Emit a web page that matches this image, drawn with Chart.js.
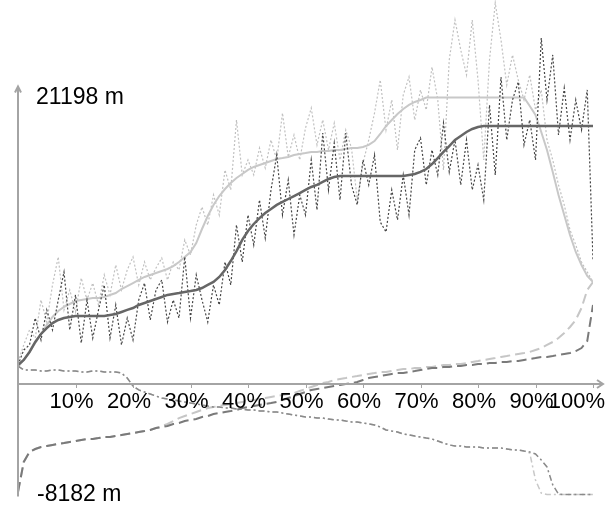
<!DOCTYPE html>
<html>
<head>
<meta charset="utf-8">
<script src="https://cdn.jsdelivr.net/npm/chart.js@4.4.1/dist/chart.umd.min.js"></script>
<style>
	html, body { margin: 0; padding: 0; background: #fff; }
	#wrap { width: 616px; height: 506px; }
</style>
</head>
<body>
<div id="wrap"><canvas id="myChart" width="616" height="506"></canvas></div>
<script>
// x positions along the profile, in percent
const pct = [0,1,2,3,4,5,6,7,8,9,10,11,12,13,14,15,16,17,18,19,20,21,22,23,24,25,26,27,28,29,30,31,32,33,34,35,36,37,38,39,40,41,42,43,44,45,46,47,48,49,50,51,52,53,54,55,56,57,58,59,60,61,62,63,64,65,66,67,68,69,70,71,72,73,74,75,76,77,78,79,80,81,82,83,84,85,86,87,88,89,90,91,92,93,94,95,96,97,98,99,100];
const tickValues = [10,20,30,40,50,60,70,80,90,100];
const tickLabels = ['10%','20%','30%','40%','50%','60%','70%','80%','90%','100%'];
const maxLabel = 21198; // m
const minLabel = -8182; // m

// values in metres
const lightRaw = [1630,2890,4000,3400,6220,4590,7330,9400,5480,6960,
	5330,7840,6220,7470,5850,8070,6590,8810,6960,8440,
	9400,7330,9030,7700,8580,9320,7700,9030,8440,10660,
	9550,11770,13100,11770,13990,12510,15840,14360,19540,15470,
	16580,15470,17460,15980,18060,16580,20050,16800,18430,16580,
	18940,20420,17690,19540,17320,19310,16580,18800,17460,13620,
	16350,18060,20050,22500,18800,21020,17320,21390,22720,19540,
	21760,20280,23460,21020,15840,23980,26940,24720,22870,26940,
	22500,16580,23980,28190,25460,22130,24350,22500,21020,22870,
	20280,21760,18060,16580,14730,13250,11400,10290,9030,8290,
	7550];
const darkRaw = [1410,2520,2890,4880,3260,5480,4000,6220,8290,4000,
	6590,3030,6220,3400,5480,7330,3400,5850,2890,4880,
	3260,6220,7470,4740,6960,7700,4590,6220,4880,9400,
	4880,8070,6220,4590,7330,5850,9030,7330,11770,9030,
	12510,10290,13620,10800,14360,16950,12510,15100,11030,13990,
	12510,16580,12880,18570,14360,17830,13620,18570,14730,13250,
	16580,14730,16950,11990,11250,14360,12140,15470,12510,17320,
	18200,14730,17320,15470,19310,15690,18060,14730,18060,14360,
	16210,13620,20650,15470,22720,18060,21020,22350,17690,19540,
	16580,25600,21020,24350,18430,21900,18060,21020,18800,21760,
	9180];
const lightSmooth = [1260,1780,2370,3030,3700,4370,4960,5400,5700,5920,
	6140,6220,6290,6360,6360,6440,6590,6730,7030,7250,
	7470,7700,7920,8070,8210,8360,8510,8730,9030,9400,
	9770,10430,11470,12430,13250,13910,14430,14870,15240,15540,
	15840,16060,16210,16350,16500,16650,16720,16800,16950,17020,
	17090,17170,17170,17240,17240,17320,17320,17390,17460,17460,
	17540,17690,17980,18500,19090,19540,19980,20350,20650,20870,
	21020,21198,21198,21198,21198,21198,21198,21198,21198,21198,
	21198,21198,21198,21198,21198,21198,21198,21198,21198,20570,
	19910,18650,17320,15690,13990,12510,11030,9770,8810,7990,
	7550];
const darkSmooth = [1410,1780,2370,3110,3700,4140,4510,4740,4880,4960,
	5030,5030,5030,5030,5030,5030,5110,5180,5330,5480,
	5620,5850,5990,6140,6290,6440,6590,6660,6730,6810,
	6880,6960,7100,7330,7550,7920,8440,9100,9840,10660,
	11320,11840,12280,12650,12950,13250,13470,13690,13910,14130,
	14360,14580,14730,14950,15170,15320,15390,15390,15390,15390,
	15390,15390,15390,15390,15390,15390,15390,15390,15470,15540,
	15690,15910,16280,16720,17170,17610,18060,18350,18650,18870,
	19020,19090,19090,19090,19090,19090,19090,19090,19090,19090,
	19090,19090,19090,19090,19090,19090,19090,19090,19090,19090,
	19090];
const lightSorted = [-7990,-5770,-5030,-4810,-4660,-4590,-4510,-4440,-4370,-4290,
	-4220,-4140,-4070,-4070,-4000,-3920,-3920,-3850,-3770,-3700,
	-3630,-3550,-3480,-3400,-3260,-3110,-2960,-2740,-2520,-2370,
	-2220,-2070,-1920,-1780,-1700,-1630,-1550,-1480,-1410,-1330,
	-1260,-1180,-1110,-1040,-960,-890,-810,-740,-670,-520,
	-370,-220,-70,70,150,300,370,440,520,590,
	670,740,810,890,890,960,1040,1110,1110,1180,
	1180,1260,1260,1330,1410,1410,1480,1480,1550,1630,
	1700,1780,1850,1920,2000,2070,2150,2220,2290,2370,
	2520,2660,2890,3110,3400,3770,4220,4740,5620,6960,
	7550];
const darkSorted = [-7990,-5770,-5030,-4810,-4660,-4590,-4510,-4440,-4370,-4290,
	-4220,-4140,-4070,-4070,-4000,-3920,-3920,-3850,-3770,-3700,
	-3630,-3550,-3480,-3400,-3260,-3180,-3110,-2960,-2890,-2740,
	-2660,-2590,-2440,-2370,-2220,-2150,-2070,-2000,-1920,-1780,
	-1700,-1630,-1550,-1480,-1410,-1330,-1180,-1040,-890,-740,
	-590,-440,-370,-300,-220,-150,-70,0,70,150,
	300,440,520,590,670,740,810,810,890,960,
	1040,1110,1180,1180,1260,1260,1330,1330,1410,1410,
	1480,1480,1550,1550,1630,1630,1700,1700,1780,1850,
	1920,2000,2000,2070,2150,2220,2290,2440,2660,3180,
	5850];
const lightDrop = [1330,1040,1040,1040,960,960,1040,1040,960,960,
	960,890,890,960,960,890,890,890,810,440,
	-150,-440,-590,-740,-890,-1040,-1110,-1180,-1260,-1330,
	-1410,-1480,-1550,-1630,-1700,-1700,-1780,-1780,-1850,-1850,
	-1920,-1920,-2000,-2000,-2070,-2070,-2150,-2220,-2290,-2370,
	-2440,-2440,-2520,-2520,-2590,-2660,-2660,-2740,-2810,-2810,
	-2890,-2960,-3030,-3180,-3400,-3480,-3550,-3700,-3770,-3850,
	-3920,-4000,-4070,-4220,-4370,-4510,-4590,-4590,-4660,-4660,
	-4660,-4740,-4740,-4740,-4740,-4810,-4880,-4880,-4960,-5110,
	-7100,-8070,-8182,-8182,-8182,-8182,-8182,-8182,-8182,-8182,
	-8182];
const darkDrop = [1330,1040,1040,1040,960,960,1040,1040,960,960,
	960,890,890,960,960,890,890,890,810,440,
	-150,-440,-590,-740,-890,-1040,-1110,-1180,-1260,-1330,
	-1410,-1480,-1550,-1630,-1700,-1700,-1780,-1780,-1850,-1850,
	-1920,-1920,-2000,-2000,-2070,-2070,-2150,-2220,-2290,-2370,
	-2440,-2440,-2520,-2520,-2590,-2660,-2660,-2740,-2810,-2810,
	-2890,-2960,-3030,-3180,-3400,-3480,-3550,-3700,-3770,-3850,
	-3920,-4000,-4070,-4220,-4370,-4510,-4590,-4590,-4660,-4660,
	-4660,-4740,-4740,-4740,-4740,-4810,-4880,-4880,-4960,-5030,
	-5180,-5620,-6140,-7470,-8140,-8182,-8182,-8182,-8182,-8182,
	-8182];

const tickFont = '22px "Liberation Sans", Arial, sans-serif';
const edgeFont = '23px "Liberation Sans", Arial, sans-serif';

// axis lines with arrows, the two extreme labels and the percent ticks
const axisPlugin = {
	id: 'axisPlugin',
	afterDatasetsDraw(chart) {
		const { ctx, scales: { x, y } } = chart;
		const x0 = x.getPixelForValue(0);
		const y0 = y.getPixelForValue(0);
		const yTop = y.getPixelForValue(maxLabel) - 11;
		const yBot = y.getPixelForValue(minLabel) + 2;
		const xEnd = x.getPixelForValue(100) + 10;
		ctx.save();
		ctx.strokeStyle = '#a4a4a4';
		ctx.lineWidth = 2;
		ctx.beginPath();
		ctx.moveTo(x0, yBot);
		ctx.lineTo(x0, yTop);
		ctx.moveTo(x0 - 3, yTop + 6);
		ctx.lineTo(x0, yTop);
		ctx.lineTo(x0 + 3, yTop + 6);
		ctx.stroke();

		ctx.beginPath();
		ctx.moveTo(x0, y0);
		ctx.lineTo(xEnd, y0);
		ctx.moveTo(xEnd - 6, y0 - 4);
		ctx.lineTo(xEnd, y0);
		ctx.lineTo(xEnd - 6, y0 + 4);
		ctx.stroke();

		ctx.lineWidth = 1;
		ctx.beginPath();
		tickValues.forEach(v => {
			const px = Math.round(x.getPixelForValue(v)) + 0.5;
			ctx.moveTo(px, y0);
			ctx.lineTo(px, y0 + 4);
		});
		ctx.stroke();

		ctx.fillStyle = '#000';
		ctx.font = edgeFont;
		ctx.textBaseline = 'middle';
		ctx.textAlign = 'left';
		ctx.fillText(maxLabel + ' m', x0 + 18, y.getPixelForValue(maxLabel));
		ctx.fillText(minLabel + ' m', x0 + 19, y.getPixelForValue(minLabel));

		ctx.font = tickFont;
		ctx.textAlign = 'center';
		tickValues.forEach((v, i) => {
			const px = x.getPixelForValue(v);
			if (i === tickValues.length - 1) {
				ctx.textAlign = 'right';
				ctx.fillText(tickLabels[i], 605, y0 + 18);
			} else {
				ctx.fillText(tickLabels[i], px - 4, y0 + 18);
			}
		});
		ctx.restore();
	}
};

function line(data, color, width, dash, order) {
	return {
		data: data,
		borderColor: color,
		borderWidth: width,
		borderDash: dash,
		pointRadius: 0,
		fill: false,
		tension: 0,
		order: order
	};
}

window.onload = () => {
	const ctx = document.getElementById('myChart').getContext('2d');
	new Chart(ctx, {
		type: 'line',
		data: {
			labels: pct,
			datasets: [
				line(lightRaw, '#c0c0c0', 1.2, [2, 2], 8),
				line(darkRaw, '#444444', 1.2, [2, 2], 3),
				line(lightSmooth, '#c8c8c8', 2, [], 6),
				line(darkSmooth, '#666666', 2.5, [], 2),
				line(lightSorted, '#c6c6c6', 2, [10, 5], 7),
				line(darkSorted, '#7a7a7a', 2, [10, 5], 4),
				line(lightDrop, '#c8c8c8', 1.5, [6, 3, 2, 3], 9),
				line(darkDrop, '#8a8a8a', 1.5, [6, 3, 2, 3], 5)
			]
		},
		options: {
			responsive: false,
			animation: false,
			events: [],
			layout: { padding: { left: 18, right: 23, top: 0, bottom: 0 } },
			scales: {
				x: { type: 'linear', display: false, min: 0, max: 100 },
				y: { type: 'linear', display: false, min: -9028, max: 28416 }
			},
			plugins: {
				legend: { display: false },
				tooltip: { enabled: false }
			}
		},
		plugins: [axisPlugin]
	});
};
</script>
</body>
</html>
